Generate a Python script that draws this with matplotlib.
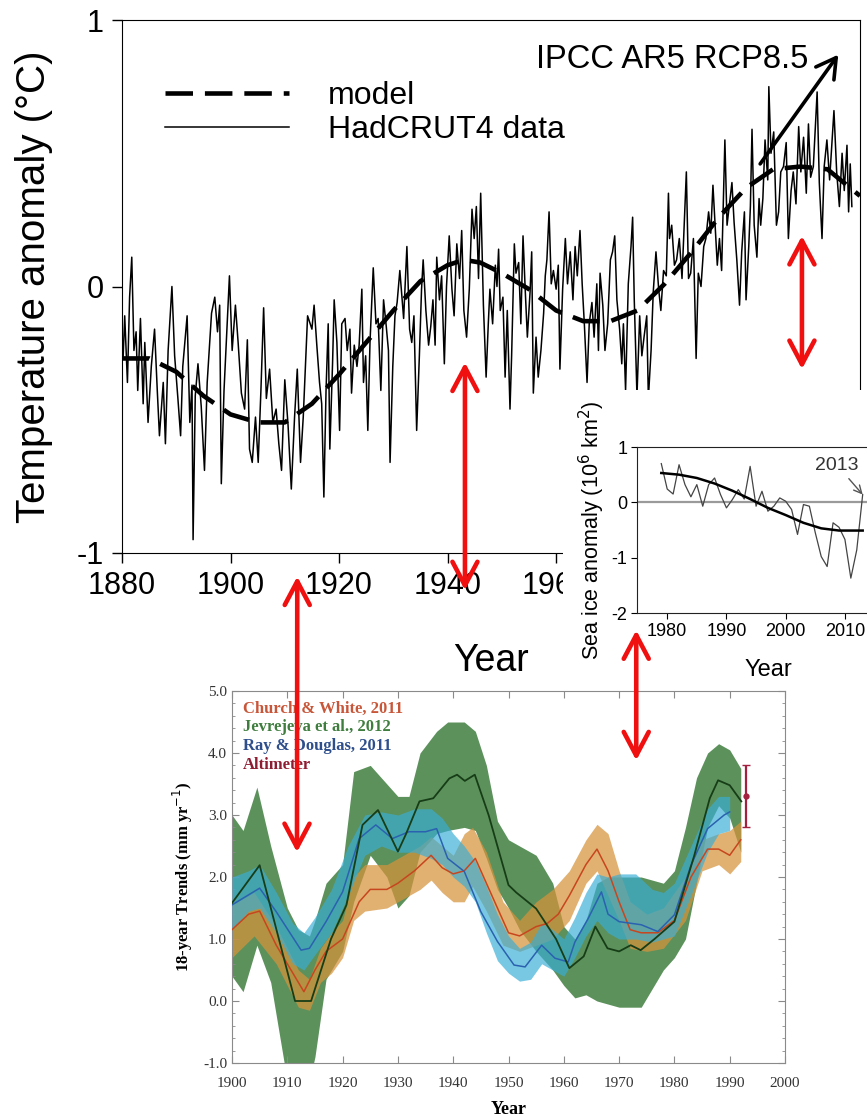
import numpy as np
import matplotlib
matplotlib.use("Agg")
import matplotlib.pyplot as plt
from matplotlib.patches import Rectangle, ConnectionPatch
from matplotlib.ticker import MultipleLocator, FormatStrFormatter

plt.rcParams['axes.unicode_minus'] = False
plt.rcParams['font.family'] = ['Liberation Sans', 'DejaVu Sans']

# ---- global temperature (top panel) ----
had_year = [1880.2, 1880.5, 1881.0, 1881.4, 1881.8, 1882.2, 1882.6, 1882.9, 1883.4, 1883.9,
            1884.2, 1884.8, 1885.4, 1886.0, 1886.5, 1886.9, 1887.6, 1888.0, 1888.5, 1889.2,
            1889.7, 1890.3, 1890.8, 1891.2, 1892.0, 1892.5, 1892.9, 1893.1, 1893.5, 1894.0,
            1894.6, 1895.2, 1895.7, 1896.5, 1897.1, 1897.6, 1898.0, 1898.3, 1898.8, 1899.2,
            1899.8, 1900.3, 1900.9, 1901.4, 1902.0, 1902.6, 1903.1, 1903.5, 1904.0, 1904.6,
            1905.1, 1905.6, 1906.1, 1906.6, 1907.2, 1907.8, 1908.4, 1908.9, 1909.4, 1910.0,
            1910.6, 1911.2, 1911.8, 1912.3, 1912.9, 1913.4, 1914.2,
            1915.0, 1915.4, 1915.9, 1916.4, 1916.8, 1917.2, 1917.6, 1918.0, 1918.3, 1918.8,
            1919.1, 1919.6, 1920.1, 1920.5, 1921.1, 1921.5, 1922.0, 1922.3, 1922.8, 1923.3,
            1923.7, 1924.2, 1924.5, 1924.9, 1925.3, 1925.7, 1926.3, 1926.8, 1927.2, 1927.7,
            1928.2, 1928.7, 1929.1, 1929.4, 1929.9, 1930.3, 1930.7, 1931.2, 1931.9, 1932.5,
            1933.0, 1933.4, 1933.8, 1934.3, 1934.8, 1935.2, 1935.5, 1936.0, 1936.5, 1936.9,
            1937.3, 1937.7, 1938.0, 1938.5, 1938.9, 1939.4, 1939.8, 1940.3, 1940.8, 1941.2,
            1941.7, 1942.2, 1942.6, 1943.0, 1943.5, 1944.0, 1944.5, 1944.9, 1945.3, 1945.7,
            1946.1, 1946.6, 1947.1, 1947.5,
            1947.8, 1948.3, 1948.8, 1949.1, 1949.4, 1949.7, 1950.2, 1950.6, 1951.0, 1951.5,
            1951.8, 1952.3, 1952.6, 1953.1, 1953.5, 1953.9, 1954.3, 1954.7, 1955.2, 1955.5,
            1955.8, 1956.3, 1956.7, 1957.2, 1957.7, 1958.0, 1958.3, 1958.7, 1959.1, 1959.5,
            1960.0, 1960.4, 1960.7, 1961.2, 1961.7, 1962.1, 1962.6, 1963.1, 1963.5, 1963.9,
            1964.4, 1964.8, 1965.2, 1965.7, 1966.1, 1966.6, 1967.0, 1967.5, 1967.8, 1968.1,
            1968.6, 1969.0, 1969.5, 1970.0, 1970.4, 1970.8, 1971.2, 1971.7, 1972.1, 1972.4,
            1972.8, 1973.3, 1973.8, 1974.1, 1974.4, 1974.9, 1975.4, 1975.8, 1976.2, 1976.7,
            1977.0, 1977.5, 1977.9, 1978.4, 1978.9, 1979.3, 1979.8, 1980.3, 1980.7,
            1980.9, 1981.3, 1981.8, 1982.2, 1982.7, 1983.2, 1983.6, 1984.0, 1984.4, 1984.8,
            1985.3, 1985.8, 1986.2, 1986.7, 1987.2, 1987.6, 1988.1, 1988.5, 1988.9, 1989.3,
            1989.7, 1990.1, 1990.5, 1991.1, 1991.5, 1991.9, 1992.4, 1992.8, 1993.3, 1993.8,
            1994.2, 1994.7, 1995.0, 1995.5, 1995.8, 1996.1, 1996.5, 1997.0, 1997.4, 1997.7,
            1998.1, 1998.5, 1999.0, 1999.2, 1999.6, 2000.1, 2000.6, 2001.0, 2001.4, 2001.9,
            2002.4, 2002.8, 2003.3, 2003.7, 2004.2, 2004.7, 2005.1, 2005.6, 2006.1, 2006.5,
            2006.9, 2007.4, 2008.1, 2008.5, 2009.0, 2009.4, 2009.9, 2010.4, 2010.8, 2011.2,
            2011.7, 2012.2, 2012.7, 2013.1, 2013.6, 2013.9, 2014.2, 2014.5]
had_anom = [-0.27, -0.11, -0.36, -0.04, 0.11, -0.24, -0.17, -0.39, -0.12, -0.44,
            -0.21, -0.51, -0.30, -0.16, -0.39, -0.56, -0.36, -0.59, -0.24, 0.00,
            -0.26, -0.42, -0.56, -0.30, -0.11, -0.51, -0.37, -0.95, -0.41, -0.29,
            -0.45, -0.69, -0.36, -0.10, -0.04, -0.17, -0.07, -0.74, -0.39, -0.22,
            0.04, -0.24, -0.07, -0.21, -0.40, -0.46, -0.20, -0.61, -0.66, -0.49,
            -0.66, -0.39, -0.08, -0.42, -0.31, -0.51, -0.46, -0.59, -0.69, -0.35,
            -0.52, -0.76, -0.49, -0.31, -0.66, -0.49, -0.11,
            -0.16, -0.07, -0.22, -0.36, -0.44, -0.79, -0.39, -0.14, -0.61, -0.29,
            -0.05, -0.21, -0.54, -0.14, -0.12, -0.24, -0.16, -0.40, -0.22, -0.30,
            -0.22, -0.01, -0.36, -0.26, -0.54, -0.21, 0.07, -0.14, -0.12, -0.39,
            -0.05, -0.15, -0.24, -0.66, -0.30, -0.11, -0.06, 0.06, -0.12, 0.15,
            -0.16, -0.21, -0.11, -0.54, -0.26, -0.01, 0.10, -0.09, -0.22, -0.15,
            -0.05, -0.22, 0.11, -0.05, 0.04, -0.29, 0.00, 0.19, -0.01, -0.11,
            0.16, 0.03, 0.21, -0.09, -0.19, -0.01, 0.29, 0.18, 0.30, 0.03,
            0.35, -0.07, -0.34, -0.14,
            -0.01, -0.14, 0.08, 0.00, 0.14, -0.09, -0.04, -0.34, -0.09, -0.46,
            -0.26, 0.16, 0.05, 0.09, -0.14, 0.19, -0.01, -0.19, -0.02, 0.13,
            -0.40, -0.19, -0.34, -0.24, -0.10, 0.04, 0.10, 0.28, 0.01, 0.06,
            -0.01, 0.08, -0.31, -0.01, 0.18, 0.01, 0.13, -0.05, 0.15, 0.04,
            0.21, 0.01, -0.14, -0.36, -0.14, -0.06, -0.19, 0.01, -0.24, 0.05,
            -0.07, -0.24, -0.14, 0.10, 0.13, 0.19, -0.05, -0.16, -0.29, -0.14,
            -0.39, 0.01, 0.15, 0.26, -0.05, -0.41, -0.11, -0.26, -0.19, -0.11,
            -0.42, -0.24, -0.02, 0.13, -0.01, -0.09, 0.06, 0.04, 0.35,
            0.18, 0.23, 0.08, 0.10, 0.18, 0.03, 0.23, 0.43, 0.03, 0.05,
            0.18, -0.27, 0.05, 0.00, 0.15, 0.18, 0.28, 0.20, 0.38, 0.23,
            0.08, 0.18, 0.06, 0.55, 0.23, 0.30, 0.39, 0.24, 0.10, -0.07,
            0.13, 0.28, -0.05, 0.15, 0.30, 0.59, 0.23, 0.11, 0.33, 0.23,
            0.33, 0.55, 0.40, 0.75, 0.50, 0.58, 0.23, 0.28, 0.43, 0.45,
            0.54, 0.18, 0.36, 0.43, 0.31, 0.60, 0.43, 0.56, 0.35, 0.61,
            0.41, 0.45, 0.73, 0.39, 0.18, 0.45, 0.55, 0.40, 0.53, 0.66,
            0.43, 0.30, 0.50, 0.36, 0.53, 0.28, 0.46, 0.30]
model_year = [1880, 1885, 1890, 1895, 1900, 1905, 1910, 1915, 1920, 1925, 1930, 1935, 1940, 1943, 1946,
              1950, 1955, 1960, 1965, 1970, 1975, 1980, 1985, 1990, 1995, 2000, 2005, 2010, 2013, 2016]
model_anom = [-0.27, -0.27, -0.32, -0.41, -0.48, -0.51, -0.51, -0.44, -0.33, -0.21, -0.09, 0.02, 0.08, 0.10, 0.09,
              0.05, -0.01, -0.09, -0.13, -0.13, -0.09, 0.01, 0.13, 0.26, 0.37, 0.44, 0.45, 0.44, 0.39, 0.34]
top_xticks = [1880, 1900, 1920, 1940, 1960, 1980, 2000]

# ---- sea ice inset ----
ice_year = list(range(1979, 2014))
ice_anom = [0.70, 0.24, 0.15, 0.68, 0.32, 0.10, 0.32, -0.07, 0.32, 0.44, 0.14, -0.10, 0.05, 0.23, 0.06,
            0.65, -0.07, 0.20, -0.16, -0.07, 0.08, 0.02, -0.13, -0.58, -0.04, -0.07, -0.55, -0.98, -1.16,
            -0.37, -0.45, -0.67, -1.37, -0.86, 0.14]
ice_fit_year = [1979, 1982, 1985, 1988, 1991, 1994, 1997, 2000, 2003, 2006, 2009, 2013]
ice_fit = [0.53, 0.50, 0.44, 0.34, 0.21, 0.06, -0.10, -0.23, -0.37, -0.47, -0.51, -0.51]

# ---- 18-year sea level trends (bottom panel) ----
cw_year = [1900, 1903, 1905, 1908, 1912, 1913, 1915, 1917, 1920, 1923, 1925, 1928, 1930, 1933, 1936, 1938,
           1940, 1942, 1944, 1946, 1948, 1950, 1952, 1955, 1957, 1959, 1961, 1964, 1966, 1968, 1970, 1972,
           1974, 1977, 1980, 1983, 1986, 1988, 1990, 1992]
cw_rate = [1.15, 1.4, 1.45, 0.9, 0.3, 0.15, 0.5, 0.8, 1.0, 1.6, 1.8, 1.8, 1.9, 2.1, 2.35, 2.15,
           2.05, 2.1, 2.3, 1.9, 1.5, 1.1, 1.05, 1.2, 1.25, 1.4, 1.7, 2.2, 2.45, 2.1, 1.6, 1.15,
           1.1, 1.1, 1.3, 2.0, 2.45, 2.45, 2.35, 2.6]
cw_band_year = [1900, 1904, 1908, 1912, 1914, 1916, 1918, 1920, 1922, 1924, 1928, 1930, 1934, 1936, 1938,
                1940, 1942, 1943.5, 1946, 1949, 1952, 1955, 1958, 1961, 1964, 1966, 1968, 1970, 1972,
                1975, 1978, 1982, 1985, 1988, 1990, 1992]
cw_hi = [1.55, 1.75, 1.2, 0.5, 0.35, 0.85, 1.1, 1.3, 2.0, 2.2, 2.2, 2.3, 2.5, 2.65, 2.5,
         2.35, 2.7, 2.8, 2.4, 1.6, 1.3, 1.6, 1.8, 2.1, 2.6, 2.85, 2.7, 2.1, 1.6,
         1.4, 1.5, 2.0, 2.6, 2.7, 2.75, 2.9]
cw_lo = [0.7, 1.05, 0.6, -0.1, -0.15, 0.3, 0.45, 0.7, 1.3, 1.45, 1.5, 1.6, 1.8, 1.95, 1.75,
         1.6, 1.6, 1.85, 1.45, 0.9, 0.8, 0.9, 1.0, 1.3, 1.9, 2.1, 1.7, 1.3, 0.85,
         0.8, 0.85, 1.3, 2.1, 2.2, 2.05, 2.25]

jv_year = [1900, 1905, 1911.4, 1914.3, 1917.9, 1920.7, 1923.6, 1926.4, 1930, 1931.4,
           1933.9, 1936.4, 1939.3, 1940.7, 1942.1, 1943.9, 1946.4, 1950, 1951.4, 1955,
           1958.6, 1961, 1963.6, 1965.7, 1967.9, 1970, 1972.1, 1973.9, 1976.4, 1980,
           1983.6, 1986.4, 1987.9, 1990, 1992.1]
jv_rate = [1.58, 2.19, 0.0, 0.0, 1.0, 1.55, 2.84, 3.08, 2.41, 2.68,
           3.22, 3.27, 3.59, 3.65, 3.55, 3.65, 3.0, 1.87, 1.75, 1.49,
           1.0, 0.53, 0.72, 1.2, 0.85, 0.8, 0.9, 0.82, 1.0, 1.28,
           2.35, 3.27, 3.56, 3.48, 3.22]
jv_band_year = [1900, 1902, 1904.5, 1907, 1910, 1912, 1914, 1915, 1917, 1920, 1922, 1925, 1928, 1930, 1932,
                1934, 1937, 1939, 1942, 1944, 1946, 1948, 1950, 1952, 1955, 1958, 1960, 1962, 1964, 1966,
                1968, 1970, 1972, 1974, 1976, 1978, 1980, 1982, 1984, 1986, 1988, 1990, 1992]
jv_hi = [3.0, 2.75, 3.45, 2.5, 1.5, 1.15, 1.05, 1.3, 1.9, 2.2, 3.7, 3.8, 3.5, 3.3, 3.3,
         4.0, 4.35, 4.5, 4.5, 4.35, 3.8, 2.9, 2.6, 2.5, 2.35, 1.9, 1.2, 1.0, 1.3, 1.9,
         2.0, 2.0, 2.0, 2.0, 1.95, 1.9, 2.1, 2.8, 3.6, 4.0, 4.15, 4.05, 3.75]
jv_lo = [0.4, 0.15, 0.9, 0.3, -1.3, -1.3, -1.3, -0.9, 0.35, 0.8, 1.6, 2.35, 2.0, 1.5, 1.7,
         2.4, 2.7, 2.75, 2.8, 2.75, 2.3, 1.8, 1.5, 1.15, 0.8, 0.5, 0.25, 0.05, 0.1, 0.0,
         -0.05, -0.1, -0.1, -0.1, 0.2, 0.5, 0.7, 1.0, 1.9, 2.8, 3.15, 2.95, 2.4]

rd_year = [1900, 1905, 1908, 1912.5, 1914, 1917, 1920, 1923, 1926, 1929, 1932, 1935, 1937, 1939, 1942,
           1945, 1948, 1951, 1953, 1956, 1958.4, 1960.8, 1962, 1964.4, 1966.8, 1968, 1970, 1974, 1977,
           1980, 1983, 1986, 1989, 1990]
rd_rate = [1.55, 1.82, 1.44, 0.82, 0.85, 1.28, 1.76, 2.62, 2.84, 2.62, 2.73, 2.73, 2.78, 2.3, 2.09,
           1.44, 0.96, 0.58, 0.55, 0.9, 0.69, 0.63, 0.95, 1.33, 1.76, 1.4, 1.28, 1.23, 1.12,
           1.39, 2.19, 2.78, 3.0, 3.05]
rd_band_year = [1900, 1903, 1905, 1908, 1911, 1913, 1915, 1918, 1921, 1924, 1927, 1930, 1933, 1936, 1938,
                1940, 1942, 1944, 1946, 1948, 1950, 1952, 1954, 1956, 1958, 1960, 1962, 1964, 1966, 1968,
                1970, 1973, 1976, 1978, 1980, 1983, 1986, 1988, 1990]
rd_hi = [2.0, 2.1, 2.2, 1.75, 1.25, 1.1, 1.35, 1.8, 2.5, 3.0, 3.05, 3.0, 3.1, 3.1, 2.95,
         2.7, 2.5, 2.25, 1.85, 1.4, 1.05, 0.85, 0.95, 1.25, 1.15, 1.0, 1.35, 1.75, 2.05, 2.0,
         2.05, 2.05, 1.8, 1.75, 1.9, 2.5, 3.1, 3.3, 3.3]
rd_lo = [1.15, 1.45, 1.5, 1.1, 0.6, 0.5, 0.75, 1.1, 1.7, 2.35, 2.5, 2.4, 2.4, 2.3, 2.2,
         2.0, 1.85, 1.6, 1.1, 0.65, 0.45, 0.32, 0.35, 0.6, 0.5, 0.4, 0.7, 1.05, 1.3, 1.1,
         1.0, 1.0, 0.95, 1.0, 1.05, 1.7, 2.4, 2.7, 2.75]

alt_year = 1993
alt_rate = 3.3
alt_err = 0.5

sl_names = ['Church & White, 2011', 'Jevrejeva et al., 2012', 'Ray & Douglas, 2011', 'Altimeter']
sl_name_colors = ['#c8573a', '#3f7d3f', '#2e4f8c', '#8e1c32']

# ------------------------------------------------------------------
W, H = 867, 1117
fig = plt.figure(figsize=(W / 100, H / 100), dpi=100)

# top panel
ax = fig.add_axes([122 / W, 1 - 553 / H, 738 / W, 533 / H])
had_line, = ax.plot(had_year, had_anom, color='black', lw=1.1, zorder=2)
model_line, = ax.plot(model_year, model_anom, color='black', lw=3.3, dashes=(6, 2.6), zorder=3)
ax.set_xlim(1880, 2016)
ax.set_ylim(-1, 1)
ax.set_xticks(top_xticks)
ax.set_yticks([-1, 0, 1])
ax.tick_params(direction='out', length=7, width=1, labelsize=22, pad=6)
ax.set_xlabel('Year', fontsize=27, labelpad=30)
ax.set_ylabel('Temperature anomaly (\u00b0C)', fontsize=29, labelpad=17)
ax.legend([model_line, had_line], ['model', 'HadCRUT4 data'], loc='upper left',
          bbox_to_anchor=(0.058, 0.885), frameon=False, fontsize=23, handlelength=3.9,
          handletextpad=1.2, labelspacing=0.12, borderpad=0, borderaxespad=0)
ax.text(2006.5, 0.85, 'IPCC AR5 RCP8.5', fontsize=23.5, ha='right', va='center')
ax.annotate('', xy=(2012.0, 0.87), xytext=(1997.6, 0.46),
            arrowprops=dict(arrowstyle='->,head_length=0.7,head_width=0.4', lw=2.6,
                            color='black', mutation_scale=20, shrinkA=0, shrinkB=0))

# white cover behind the inset
fig.add_artist(Rectangle((563 / W, 1 - 688 / H), 304 / W, 298 / H, transform=fig.transFigure,
                         facecolor='white', edgecolor='none', zorder=1))

# sea ice inset
axi = fig.add_axes([637 / W, 1 - 613 / H, 263 / W, 166 / H], zorder=2)
axi.axhline(0, color='#9a9a9a', lw=1.6, zorder=1)
axi.plot(ice_year, ice_anom, color='#444444', lw=0.9, zorder=2)
axi.plot(ice_fit_year, ice_fit, color='black', lw=1.8, zorder=3)
axi.set_xlim(1974.9, 2019.3)
axi.set_ylim(-2, 1)
axi.set_xticks([1980, 1990, 2000, 2010])
axi.set_yticks([1, 0, -1, -2])
axi.tick_params(direction='out', length=4, labelsize=13, pad=3)
for s in axi.spines.values():
    s.set_color('#222222')
axi.set_xlabel('Year', fontsize=17, labelpad=14)
axi.set_ylabel('Sea ice anomaly (10$^6$ km$^2$)', fontsize=15.5, labelpad=3)
axi.annotate('2013', xy=(2013, 0.14), xytext=(2008.7, 0.67), fontsize=14, ha='center', va='center',
             color='#333333',
             arrowprops=dict(arrowstyle='->', color='#555555', lw=1, shrinkA=2, shrinkB=0))

# bottom panel
serif = ['Liberation Serif', 'DejaVu Serif']
axb = fig.add_axes([232 / W, 1 - 1063 / H, 553 / W, 372 / H])
axb.fill_between(jv_band_year, jv_lo, jv_hi, color='#4e884e', alpha=0.92, lw=0, zorder=1)
axb.fill_between(cw_band_year, cw_lo, cw_hi, color='#d6933c', alpha=0.72, lw=0, zorder=2)
axb.fill_between(rd_band_year, rd_lo, rd_hi, color='#3aaed6', alpha=0.68, lw=0, zorder=3)
axb.plot(cw_year, cw_rate, color='#c8461e', lw=1.1, zorder=4)
axb.plot(rd_year, rd_rate, color='#2a62b0', lw=1.1, zorder=4)
axb.plot(jv_year, jv_rate, color='#173d17', lw=1.3, zorder=5)
axb.errorbar([alt_year], [alt_rate], yerr=[alt_err], fmt='o', ms=3.5, color='#a3203e',
             ecolor='#a3203e', elinewidth=1.6, capsize=3, zorder=6)
axb.set_xlim(1900, 2000)
axb.set_ylim(-1, 5)
axb.xaxis.set_major_locator(MultipleLocator(10))
axb.yaxis.set_major_locator(MultipleLocator(1))
axb.yaxis.set_minor_locator(MultipleLocator(0.2))
axb.yaxis.set_major_formatter(FormatStrFormatter('%.1f'))
axb.tick_params(which='both', direction='in', top=True, right=True, color='#8a8a8a',
                labelcolor='#333333', labelsize=11)
axb.tick_params(which='major', length=5)
axb.tick_params(which='minor', length=2.5)
axb.tick_params(axis='x', pad=10)
for lab in axb.get_xticklabels() + axb.get_yticklabels():
    lab.set_family(serif)
for s in axb.spines.values():
    s.set_color('#8a8a8a')
axb.set_xlabel('Year', fontsize=13, fontweight='bold', family=serif, labelpad=8)
axb.set_ylabel('18-year Trends (mm yr$^{-1}$)', fontsize=12, fontweight='bold', family=serif, labelpad=6)
for i, (name, col) in enumerate(zip(sl_names, sl_name_colors)):
    axb.text(0.02, 0.953 - i * 0.051, name, transform=axb.transAxes, color=col, fontsize=12,
             fontweight='bold', family=serif, va='center', ha='left', zorder=7)

# red connector arrows
def red_arrow(ax_a, xy_a, ax_b, xy_b):
    con = ConnectionPatch(xyA=xy_a, coordsA=ax_a.transData, xyB=xy_b, coordsB=ax_b.transData,
                          arrowstyle='<->,head_length=0.85,head_width=0.45', mutation_scale=20,
                          color='#f01010', lw=3.3, shrinkA=0, shrinkB=0, zorder=8)
    fig.add_artist(con)

red_arrow(ax, (1912.3, -1.088), axb, (1911.75, 2.40))
red_arrow(ax, (1943.2, -0.285), ax, (1943.2, -1.14))
red_arrow(ax, (2005.3, 0.19), ax, (2005.3, -0.31))
red_arrow(axb, (1973.1, 5.98), axb, (1973.1, 3.88))

fig.savefig('out.png', dpi=100)
